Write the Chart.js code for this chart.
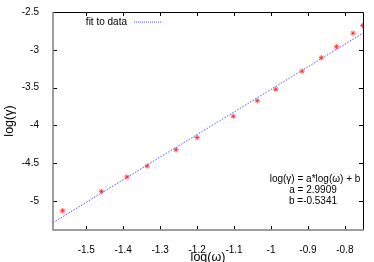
<!DOCTYPE html>
<html>
<head>
<meta charset="utf-8">
<script src="https://cdn.jsdelivr.net/npm/chart.js@4/dist/chart.umd.min.js"></script>
<style>
  html, body { margin: 0; padding: 0; background: #fff; }
  #wrap { width: 374px; height: 262px; }
</style>
</head>
<body>
<div id="wrap"><canvas id="fitChart" width="374" height="262"></canvas></div>
<script>
/* ══════════════════════════════
   DATA
══════════════════════════════ */
const logOmega = [-1.564, -1.459, -1.390, -1.335, -1.257, -1.200, -1.102,
                  -1.037, -0.987, -0.916, -0.864, -0.823, -0.778, -0.752];
const logGamma = [-5.132, -4.875, -4.685, -4.540, -4.324, -4.162, -3.880,
                  -3.676, -3.523, -3.284, -3.105, -2.960, -2.781, -2.681];

// fitted line, ends read at the plot edges
const fitX = [-1.590, -0.751];
const fitY = [-5.290, -2.780];

const xTicks = [-1.5, -1.4, -1.3, -1.2, -1.1, -1, -0.9, -0.8];
const yTicks = [-5, -4.5, -4, -3.5, -3, -2.5];

const fitText = ['log(γ) = a*log(ω) + b', 'a = 2.9909', 'b =-0.5341'];

const FONT = '"Liberation Sans", Arial, sans-serif';

/* ══════════════════════════════
   FRAME, INWARD TICKS, LABELS
══════════════════════════════ */
const framePlugin = {
  id: 'frame',
  afterDraw(chart) {
    const { ctx, chartArea: a, scales } = chart;
    ctx.save();

    // inward ticks on all four sides
    ctx.strokeStyle = '#000';
    ctx.lineWidth = 1;
    ctx.beginPath();
    xTicks.forEach(v => {
      const x = Math.round(scales.x.getPixelForValue(v)) + 0.5;
      ctx.moveTo(x, a.bottom); ctx.lineTo(x, a.bottom - 4);
      ctx.moveTo(x, a.top);    ctx.lineTo(x, a.top + 4);
    });
    yTicks.forEach(v => {
      const y = Math.round(scales.y.getPixelForValue(v)) + 0.5;
      ctx.moveTo(a.left, y);  ctx.lineTo(a.left + 4, y);
      ctx.moveTo(a.right, y); ctx.lineTo(a.right - 4, y);
    });
    ctx.stroke();

    // border: top/right black, left/bottom grey
    ctx.beginPath();
    ctx.moveTo(a.left, a.top + 0.5); ctx.lineTo(a.right + 0.5, a.top + 0.5);
    ctx.lineTo(a.right + 0.5, a.bottom);
    ctx.stroke();
    ctx.strokeStyle = '#808080';
    ctx.lineWidth = 1.5;
    ctx.beginPath();
    ctx.moveTo(a.left, a.top); ctx.lineTo(a.left, a.bottom);
    ctx.lineTo(a.right + 1, a.bottom);
    ctx.stroke();

    // legend (gnuplot style: text then sample)
    ctx.font = '10px ' + FONT;
    ctx.fillStyle = '#000';
    ctx.textAlign = 'right';
    ctx.textBaseline = 'middle';
    ctx.fillText('fit to data', 127, 22.5);
    ctx.strokeStyle = '#5050ff';
    ctx.lineWidth = 1;
    ctx.setLineDash([1, 1]);
    ctx.beginPath();
    ctx.moveTo(134, 22); ctx.lineTo(162, 22);
    ctx.stroke();
    ctx.setLineDash([]);

    // fit formula
    ctx.textAlign = 'center';
    fitText.forEach((t, i) => {
      ctx.fillText(t, i === 0 ? 315 : 313, 179 + i * 11);
    });

    ctx.restore();
  }
};

/* ══════════════════════════════
   CHART
══════════════════════════════ */
const ctx = document.getElementById('fitChart').getContext('2d');

new Chart(ctx, {
  type: 'scatter',
  data: {
    datasets: [
      {
        label: 'data',
        data: logOmega.map((x, i) => ({ x, y: logGamma[i] })),
        pointStyle: 'star',
        pointRadius: 2.6,
        borderColor: 'rgba(255, 40, 40, 0.85)',
        backgroundColor: 'rgba(255, 40, 40, 0.85)',
        borderWidth: 1
      },
      {
        label: 'fit to data',
        type: 'line',
        data: fitX.map((x, i) => ({ x, y: fitY[i] })),
        borderColor: '#5050ff',
        borderWidth: 1,
        borderDash: [1.5, 1.5],
        pointRadius: 0,
        fill: false
      }
    ]
  },
  plugins: [framePlugin],
  options: {
    responsive: false,
    animation: false,
    layout: { padding: { top: 12, right: 11, left: 2, bottom: 0 } },
    plugins: {
      legend: { display: false },
      tooltip: { enabled: false }
    },
    scales: {
      x: {
        type: 'linear',
        min: -1.59,
        max: -0.751,
        afterBuildTicks: s => { s.ticks = xTicks.map(v => ({ value: v })); },
        afterFit: s => { s.height = 32; },
        grid: { display: false },
        border: { display: false },
        ticks: {
          padding: 6,
          color: '#000',
          font: { family: FONT, size: 10 },
          callback: v => String(v)
        },
        title: {
          display: true,
          text: 'log(ω)',
          color: '#000',
          font: { family: FONT, size: 12.5, lineHeight: 0.75 },
          padding: { top: 0, bottom: 0 }
        }
      },
      y: {
        type: 'linear',
        min: -5.387,
        max: -2.5,
        afterBuildTicks: s => { s.ticks = yTicks.map(v => ({ value: v })); },
        afterFit: s => { s.width = 51; },
        grid: { display: false },
        border: { display: false },
        ticks: {
          padding: 6,
          color: '#000',
          font: { family: FONT, size: 10 },
          callback: v => String(v)
        },
        title: {
          display: true,
          text: 'log(γ)',
          color: '#000',
          font: { family: FONT, size: 12.5 },
          padding: { top: 0, bottom: 0 }
        }
      }
    }
  }
});
</script>
</body>
</html>
